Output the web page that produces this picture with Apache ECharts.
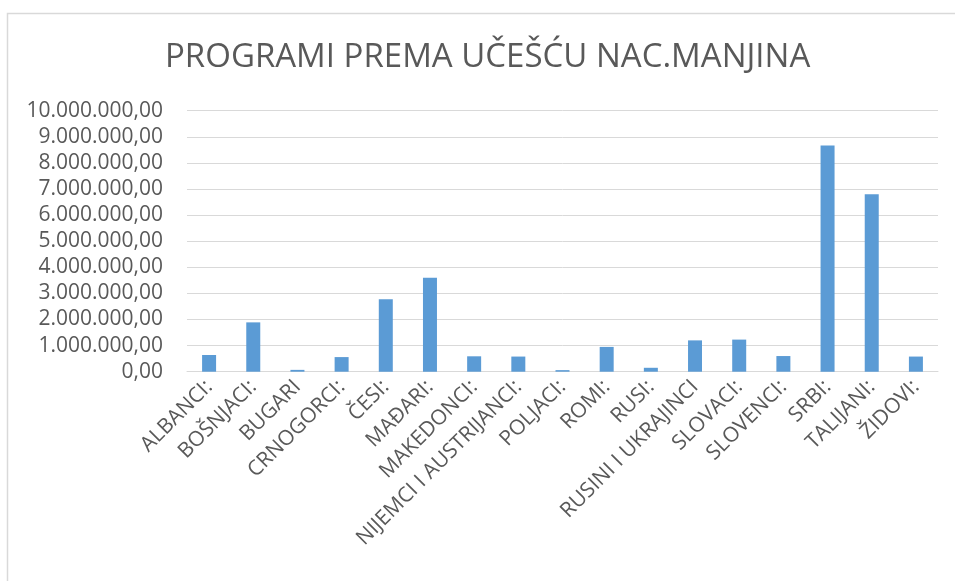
<!DOCTYPE html>
<html>
<head>
<meta charset="utf-8">
<script src="https://cdn.jsdelivr.net/npm/echarts@6/dist/echarts.min.js"></script>
<style>
html,body{margin:0;padding:0;background:#fff;}
#c{width:955px;height:581px;}
</style>
</head>
<body>
<div id="c"></div>
<script>
const titleText = 'PROGRAMI PREMA UČEŠĆU NAC.MANJINA';
const categories = ['ALBANCI:', 'BOŠNJACI:', 'BUGARI', 'CRNOGORCI:', 'ČESI:', 'MAĐARI:', 'MAKEDONCI:', 'NIJEMCI I AUSTRIJANCI:', 'POLJACI:', 'ROMI:', 'RUSI:', 'RUSINI I UKRAJINCI', 'SLOVACI:', 'SLOVENCI:', 'SRBI:', 'TALIJANI:', 'ŽIDOVI:'];
const values = [640000, 1890000, 70000, 560000, 2780000, 3600000, 590000, 580000, 60000, 950000, 150000, 1200000, 1230000, 600000, 8670000, 6800000, 580000];
const yMin = 0, yMax = 10000000, yStep = 1000000;

function fmt(v) {
  const s = Math.round(v).toString().replace(/\B(?=(\d{3})+(?!\d))/g, '.');
  return s + ',00';
}

const chart = echarts.init(document.getElementById('c'));
chart.setOption({
  animation: false,
  backgroundColor: '#fff',
  textStyle: { fontFamily: 'Open Sans' },
  graphic: [{
    type: 'rect', silent: true,
    shape: { x: 7.5, y: 13.5, width: 1000, height: 1000 },
    style: { fill: 'none', stroke: '#d9d9d9', lineWidth: 1.5 }
  }],
  title: {
    text: titleText,
    left: 160, top: 36,
    textStyle: { fontFamily: 'Open Sans', fontSize: 33, fontWeight: 'normal', color: '#595959' }
  },
  grid: { left: 187, right: 17, top: 110.7, bottom: 209.3, containLabel: false },
  xAxis: {
    type: 'category',
    data: categories,
    axisLine: { lineStyle: { color: '#d9d9d9', width: 1 } },
    axisTick: { show: false },
    axisLabel: { rotate: 45, interval: 0, color: '#595959', fontSize: 21, fontFamily: 'Open Sans', margin: 12 }
  },
  yAxis: {
    type: 'value',
    min: yMin, max: yMax, interval: yStep,
    axisLine: { show: false },
    axisTick: { show: false },
    splitLine: { lineStyle: { color: '#d9d9d9', width: 1 } },
    axisLabel: { formatter: fmt, color: '#595959', fontSize: 21, fontFamily: 'Open Sans', margin: 24 }
  },
  series: [{
    type: 'bar',
    data: values,
    barWidth: 14,
    itemStyle: { color: '#5b9bd5' }
  }]
});
</script>
</body>
</html>
